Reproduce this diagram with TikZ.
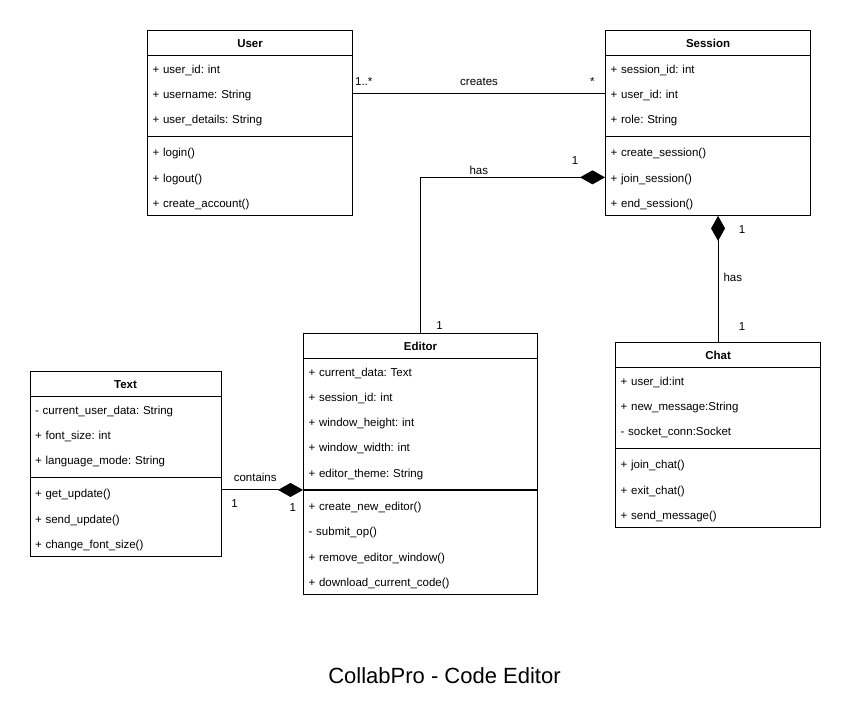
\documentclass[tikz,border=0pt]{standalone}
\usepackage{fontspec}
\setmainfont{Liberation Sans}
\usetikzlibrary{shapes.multipart, arrows.meta}

% 行高用的支柱
\newcommand{\headrow}{\rule[-8.55pt]{0pt}{25.3pt}}
\newcommand{\attr}{\rule[-12.7pt]{0pt}{29.9pt}}
\newcommand{\oper}{\rule[-7.8pt]{0pt}{28.4pt}}
\newcommand{\classname}[1]{\headrow\hfill\textbf{#1}\hfill\null}
\normallineskiplimit=-100pt

\tikzset{
    umlclass/.style={
        rectangle split,
        rectangle split parts=3,
        draw=black, % 边框颜色
        line width=1.1pt, % 边框宽度
        text width=#1,
        align=left,
        inner xsep=5pt,
        inner ysep=-0.55pt,
        anchor=north west,
        font=\fontsize{11.5}{25.3}\selectfont
    },
    composition/.style={
        -{Diamond[length=25pt,width=14pt]}, % 实心菱形
        line width=1pt
    },
    association/.style={
        line width=1pt
    },
    multtext/.style={
        inner sep=0,
        anchor=base,
        font=\fontsize{11.5}{13}\selectfont
    }
}

\begin{document}
\frenchspacing
\begin{tikzpicture}[x=1pt, y=-1pt]
    \useasboundingbox (0,0) rectangle (850,723);

    % 类
    \node[umlclass=195pt] (user) at (147,30) {\classname{User}
        \nodepart{two}\attr + user\_id: int\\
        \attr + username: String\\
        \attr + user\_details: String
        \nodepart{three}\oper + login()\\
        \oper + logout()\\
        \oper + create\_account()};

    \node[umlclass=195pt] (session) at (605,30) {\classname{Session}
        \nodepart{two}\attr + session\_id: int\\
        \attr + user\_id: int\\
        \attr + role: String
        \nodepart{three}\oper + create\_session()\\
        \oper + join\_session()\\
        \oper + end\_session()};

    \node[umlclass=224pt] (editor) at (303,333) {\classname{Editor}
        \nodepart{two}\attr + current\_data: Text\\
        \attr + session\_id: int\\
        \attr + window\_height: int\\
        \attr + window\_width: int\\
        \attr + editor\_theme: String
        \nodepart{three}\oper + create\_new\_editor()\\
        \oper - submit\_op()\\
        \oper + remove\_editor\_window()\\
        \oper + download\_current\_code()};

    \node[umlclass=181pt] (textcls) at (29.5,371) {\classname{Text}
        \nodepart{two}\attr - current\_user\_data: String\\
        \attr + font\_size: int\\
        \attr + language\_mode: String
        \nodepart{three}\oper + get\_update()\\
        \oper + send\_update()\\
        \oper + change\_font\_size()};

    \node[umlclass=195pt] (chat) at (615,342) {\classname{Chat}
        \nodepart{two}\attr + user\_id:int\\
        \attr + new\_message:String\\
        \attr - socket\_conn:Socket
        \nodepart{three}\oper + join\_chat()\\
        \oper + exit\_chat()\\
        \oper + send\_message()};

    % 连线
    \draw[association] ([yshift=2.5pt]user.two east) -- ([yshift=2.5pt]session.two west)
        node[multtext, pos=0, anchor=base west, xshift=1.5pt, yshift=8pt] (m-user) {1..*}
        node[multtext, midway, yshift=8pt] (creates) {creates}
        node[multtext, pos=1, anchor=base east, xshift=-10pt, yshift=8pt] (m-session) {*};

    \draw[composition] (editor.north) |- ([yshift=-1.5pt]session.three west)
        node[multtext, pos=0, xshift=19pt, yshift=4pt] (m-editor) {1}
        node[multtext, pos=0.658, yshift=3pt] (has-editor) {has}
        node[multtext, pos=1, xshift=-30pt, yshift=12.7pt] (m-session-editor) {1};

    \draw[composition] (chat.north) -- (chat.north |- session.south)
        node[multtext, pos=0, xshift=24pt, yshift=11.7pt] (m-chat) {1}
        node[multtext, midway, anchor=base west, xshift=5pt, yshift=-2.3pt] (has-chat) {has}
        node[multtext, pos=1, xshift=24pt, yshift=-17.4pt] (m-session-chat) {1};

    \draw[composition] (textcls.east |- editor.two split west) -- (editor.two split west)
        node[multtext, pos=0, anchor=base west, xshift=11.7pt, yshift=8.2pt] (contains) {contains}
        node[multtext, pos=0, xshift=13pt, yshift=-17.1pt] (m-text) {1}
        node[multtext, pos=1, xshift=-10.3pt, yshift=-21.1pt] (m-editor-text) {1};

    % 标题
    \node[font=\fontsize{22}{26}\selectfont, anchor=base] (title) at (444.5,683.3) {CollabPro - Code Editor};
\end{tikzpicture}
\end{document}
